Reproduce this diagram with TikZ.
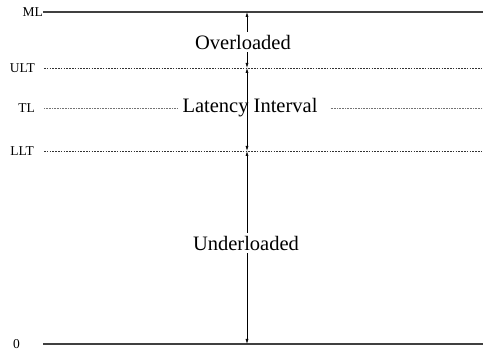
\documentclass[tikz,border=0pt]{standalone}
\usepackage{fontspec}
\setmainfont{Liberation Serif}
\usetikzlibrary{arrows.meta}
\usetikzlibrary{positioning}

\tikzset{
  level/.style={font=\fontsize{13.5}{14}\selectfont,inner sep=0pt},
  zone/.style={font=\fontsize{20.5}{22}\selectfont,fill=white,inner xsep=1pt,inner ysep=3pt},
  bound/.style={black!75,line width=1.1pt},
  thresh/.style={black!80,line width=0.8pt,dash pattern=on 1.6pt off 1.2pt},
  target/.style={black!55,line width=0.5pt,dash pattern=on 0.8pt off 0.8pt},
  loadrange/.style={{Latex[length=5pt,width=3pt]}-{Latex[length=5pt,width=3pt]},line width=0.6pt}
}

\begin{document}
\begin{tikzpicture}[x=1pt,y=-1pt]
\useasboundingbox (0,0) rectangle (483,352);

% left ends of the level lines
\coordinate (MLl) at (43,12);
\coordinate (ULTl) at (44,68);
\coordinate (TLl) at (44,108);
\coordinate (LLTl) at (44,151);
\coordinate (Zl) at (43,344);
% right ends
\coordinate (MLr) at (483,12);
\coordinate (ULTr) at (483,68);
\coordinate (TLr) at (483,108);
\coordinate (LLTr) at (483,151);
\coordinate (Zr) at (483,344);
% arrow stops
\coordinate (aML) at (247,12);
\coordinate (aULT) at (247,68);
\coordinate (aLLT) at (247,151);
\coordinate (aZ) at (247,344);

% level names
\node[level,left=0pt of MLl] (ML) {ML};
\node[level,left=9pt of ULTl] (ULT) {ULT};
\node[level,left=9pt of TLl] (TL) {TL};
\node[level,left=10pt of LLTl] (LLT) {LLT};
\node[level,left=23pt of Zl] (Z) {0};

% level lines
\draw[bound] (MLl) -- (MLr);
\draw[thresh] (ULTl) -- (ULTr);
\draw[thresh] (LLTl) -- (LLTr);
\draw[bound] (Zl) -- (Zr);

% ranges between the levels
\draw[loadrange] (aML) -- (aULT);
\draw[loadrange] (aULT) -- (aLLT);
\draw[loadrange] (aLLT) -- (aZ);
\node[zone] (over) at (243,42) {Overloaded};
\node[zone,fill=none] (lat) at (250,108) {Latency Interval};
\node[zone] (under) at (246,243) {Underloaded};

% target line, broken by the label
\draw[target] (TLl) -- ([xshift=-4pt]lat.west);
\draw[target] ([xshift=12pt]lat.east) -- (TLr);

\end{tikzpicture}
\end{document}
